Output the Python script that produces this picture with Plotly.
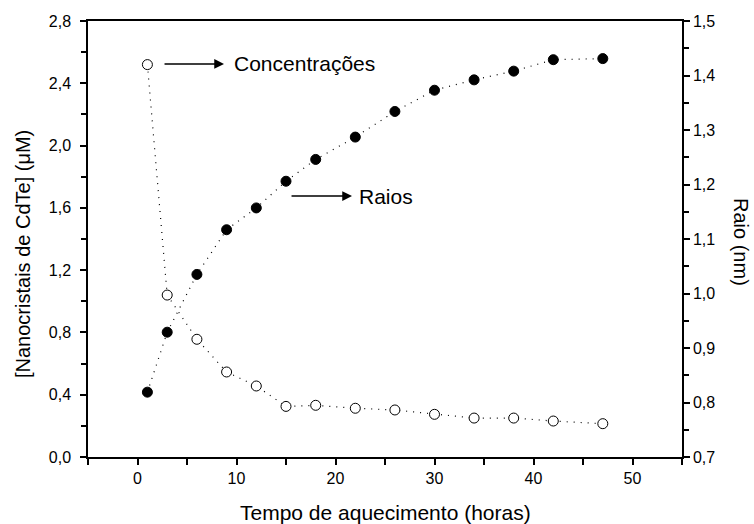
import plotly.graph_objects as go

tempo = [1, 3, 6, 9, 12, 15, 18, 22, 26, 30, 34, 38, 42, 47]
concentracao = [2.52, 1.04, 0.756, 0.546, 0.456, 0.325, 0.332, 0.313, 0.302, 0.274, 0.250, 0.250, 0.231, 0.214]
raio = [0.819, 0.929, 1.035, 1.117, 1.157, 1.206, 1.246, 1.287, 1.334, 1.373, 1.392, 1.408, 1.429, 1.431]

FONT = "Liberation Sans, Arial, sans-serif"
fig = go.Figure()
fig.add_trace(go.Scatter(
    x=tempo, y=concentracao, mode="lines+markers",
    line=dict(color="black", width=1.2, dash="1px,6px"),
    marker=dict(symbol="circle", size=10, color="white", line=dict(color="black", width=1)),
    yaxis="y", showlegend=False))
fig.add_trace(go.Scatter(
    x=tempo, y=raio, mode="lines+markers",
    line=dict(color="black", width=1.2, dash="1px,6px"),
    marker=dict(symbol="circle", size=10, color="black", line=dict(color="black", width=1)),
    yaxis="y2", showlegend=False))

axis_common = dict(showline=True, linecolor="black", linewidth=1.5, ticks="outside",
                   ticklen=6, tickwidth=1.5, tickcolor="black", showgrid=False, zeroline=False,
                   tickfont=dict(family=FONT, size=16, color="black"))

fig.update_layout(
    width=754, height=524, margin=dict(l=88, r=72, t=21, b=67),
    plot_bgcolor="white", paper_bgcolor="white", separators=",.",
    font=dict(family=FONT, color="black"),
    xaxis=dict(range=[-5, 55], tick0=0, dtick=10, mirror=True,
               minor=dict(dtick=5, tick0=0, ticks="outside", ticklen=6, tickwidth=1.5, tickcolor="black"),
               **axis_common),
    yaxis=dict(range=[0, 2.8], tick0=0, dtick=0.4, tickformat=".1f", ticklabelstandoff=6,
               minor=dict(dtick=0.2, tick0=0, ticks="outside", ticklen=5, tickwidth=1.5, tickcolor="black"),
               **axis_common),
    yaxis2=dict(range=[0.7, 1.5], tick0=0.7, dtick=0.1, tickformat=".1f", overlaying="y", side="right",
                minor=dict(dtick=0.05, tick0=0.7, ticks="outside", ticklen=5, tickwidth=1.5, tickcolor="black"),
                **axis_common),
)

ann_font = dict(family=FONT, size=21, color="black")
title_font = dict(family=FONT, size=20, color="black")
annotations = [
    dict(x=8.74, y=2.524, xref="x", yref="y", text="", showarrow=True, ax=-61, ay=0,
         arrowhead=2, arrowsize=1.3, arrowwidth=1.5, arrowcolor="black"),
    dict(x=9.55, y=2.524, xref="x", yref="y", text="Concentrações", showarrow=False,
         xanchor="left", yanchor="middle", font=ann_font),
    dict(x=21.67, y=1.676, xref="x", yref="y", text="", showarrow=True, ax=-62, ay=0,
         arrowhead=2, arrowsize=1.3, arrowwidth=1.5, arrowcolor="black"),
    dict(x=22.17, y=1.676, xref="x", yref="y", text="Raios", showarrow=False,
         xanchor="left", yanchor="middle", font=ann_font),
    dict(x=(23 - 88) / 594, y=(457 - 254) / 436, xref="paper", yref="paper", text="[Nanocristais de CdTe] (μM)",
         textangle=-90, showarrow=False, xanchor="center", yanchor="middle", font=title_font),
    dict(x=(741 - 88) / 594, y=(457 - 242) / 436, xref="paper", yref="paper", text="Raio (nm)",
         textangle=90, showarrow=False, xanchor="center", yanchor="middle", font=title_font),
    dict(x=0.5, y=(457 - 512) / 436, xref="paper", yref="paper", text="Tempo de aquecimento (horas)",
         showarrow=False, xanchor="center", yanchor="middle", font=dict(family=FONT, size=21, color="black")),
]
fig.update_layout(annotations=annotations)

fig.write_html("out.html")
